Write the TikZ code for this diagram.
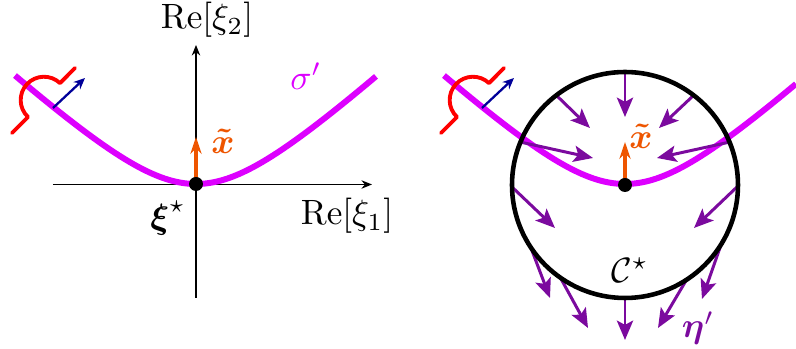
\documentclass[tikz,border=0pt]{standalone}
\usepackage{amsmath,amssymb}
\usepackage{tikz}
\usetikzlibrary{arrows.meta,positioning,calc}
\definecolor{SigmaMagenta}{HTML}{DD00FF}
\definecolor{FlowPurple}{HTML}{7B0A9E}
\definecolor{TildeOrange}{HTML}{EE5500}
\definecolor{NormalBlue}{HTML}{000099}

\begin{document}
\begin{tikzpicture}[
  x=0.01cm, y=-0.01cm,
  axis/.style    = {-{Stealth[length=3pt,width=2.4pt]}, line width=0.4pt},
  contour/.style = {line width=1.7pt, color=SigmaMagenta},
  flow/.style    = {-{Stealth[length=5.5pt,width=4.6pt,inset=1.2pt]},
                    line width=0.85pt, color=FlowPurple},
  tangent/.style = {-{Stealth[length=4.8pt,width=3.2pt]}, line width=1pt,
                    color=TildeOrange},
  normal/.style  = {-{Stealth[length=3.2pt,width=2.8pt]}, line width=0.65pt,
                    color=NormalBlue},
  hop/.style     = {line width=1.1pt, color=red, line cap=round, line join=round},
  label/.style   = {inner sep=0pt}
]
  \useasboundingbox (0,0) rectangle (796,349);

  % Saddle points and the circle centre
  \coordinate (saddleL) at (196,184);
  \coordinate (saddleR) at (625,185);

  % Left panel: axes
  \coordinate (xLeft)  at (53,184.5);
  \coordinate (xRight) at (372,184.5);
  \coordinate (yLow)   at (196,298);
  \coordinate (yHigh)  at (196,45);
  \draw[axis] (xLeft) -- (xRight);
  \draw[axis] (yLow) -- (yHigh);

  % Contour sigma' with the hop and its normal, both panels
  \foreach \dx/\hi in {0/180, 429/171}{
    \draw[contour] plot[domain=-181:\hi, samples=80, smooth]
      ({196+\dx+\x}, {184 - 92*(sqrt(0.64+(\x/100)^2)-0.8)});
    \draw[hop] (12+\dx,133) -- (28+\dx,117)
      arc[start angle=133.3, end angle=313.3, radius=23.3] -- (75+\dx,68);
    \draw[normal] (53+\dx,108) -- (85+\dx,78);
  }

  % Right panel: flow into and out of C*
  \draw[flow] (625,72)  -- (625,117);
  \draw[flow] (556,95)  -- (590,128);
  \draw[flow] (694,95)  -- (659,128);
  \draw[flow] (520,142) -- (593,158);
  \draw[flow] (730,142) -- (657,158);
  \draw[flow] (512,187) -- (555,228);
  \draw[flow] (738,186) -- (694,228);
  \draw[flow] (531,248) -- (550,298);
  \draw[flow] (560,277) -- (588,328);
  \draw[flow] (625,298) -- (625,340);
  \draw[flow] (687,279) -- (658,328);
  \draw[flow] (722,242) -- (702,299);
  \draw[line width=1.3pt] (saddleR) circle[radius=113];

  % Tangent arrows and saddle dots
  \coordinate (tipL) at (196,137);
  \coordinate (tipR) at (625,142);
  \draw[tangent] (saddleL) -- (tipL);
  \draw[tangent] (saddleR) -- (tipR);
  \fill (saddleL) circle[radius=7];
  \fill (saddleR) circle[radius=7];

  % Labels
  \node[label] (reXi2) at (207,20) {$\mathrm{Re}[\xi_2]$};
  \node[label] (reXi1) at (347,216) {$\mathrm{Re}[\xi_1]$};
  \node[label] (xiStar) at (168,218) {$\boldsymbol{\xi}^{\star}$};
  \node[label, text=TildeOrange] (xTilL) at (223,141) {$\boldsymbol{\tilde{x}}$};
  \node[label, text=SigmaMagenta] (sigma) at (306,76) {$\sigma'$};
  \node[label, text=TildeOrange] (xTilR) at (641,136) {$\boldsymbol{\tilde{x}}$};
  \node[label] (cStar) at (630,270) {$\mathcal{C}^{\star}$};
  \node[label, text=FlowPurple] (eta) at (698,328) {$\boldsymbol{\eta}'$};

\end{tikzpicture}
\end{document}
